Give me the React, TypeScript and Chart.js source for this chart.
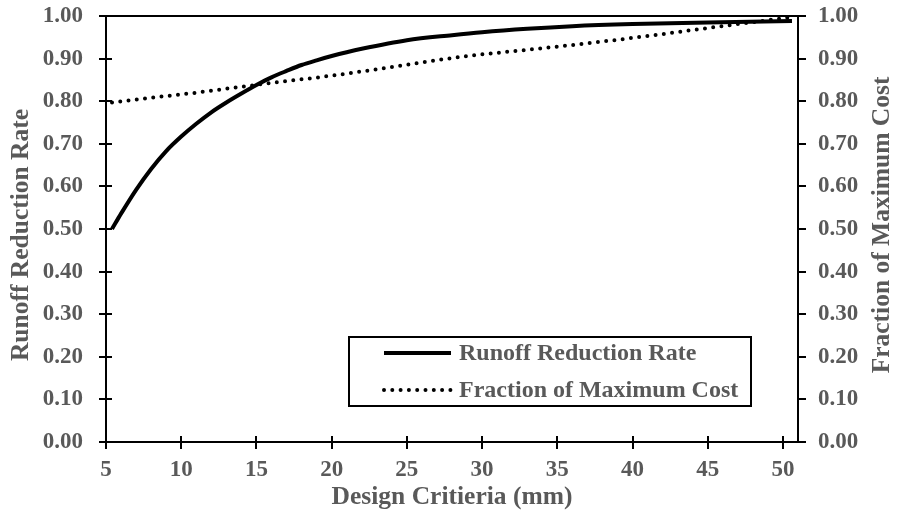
import React, { useEffect, useRef } from "react";
import { Chart, registerables } from "chart.js";

Chart.register(...registerables);

// ---- Data ----
const runoffX = [5.4, 6, 7, 8, 9, 10, 11, 12, 13, 14, 15, 16, 17, 18, 19, 20, 21, 22, 25, 28, 30, 33, 36, 40, 45, 50.6];
const runoffRate = [0.5, 0.536, 0.592, 0.641, 0.683, 0.717, 0.747, 0.774, 0.797, 0.818, 0.838, 0.856, 0.871, 0.885, 0.896, 0.906, 0.915, 0.923, 0.943, 0.955, 0.962, 0.97, 0.976, 0.981, 0.985, 0.988];
const costX = [5.4, 8, 11, 14, 17, 20, 23, 26, 29, 32, 35, 38, 41, 44, 47, 50.5];
const costFraction = [0.797, 0.808, 0.82, 0.834, 0.847, 0.86, 0.875, 0.891, 0.906, 0.917, 0.928, 0.94, 0.953, 0.967, 0.981, 0.997];

const xTitle = "Design Critieria (mm)";
const leftTitle = "Runoff Reduction Rate";
const rightTitle = "Fraction of Maximum Cost";
const seriesLabels = ["Runoff Reduction Rate", "Fraction of Maximum Cost"];

const FONT = "'Liberation Serif', 'Times New Roman', serif";
const TEXT = "#595959";

const decorPlugin = {
  id: "decor",
  afterDraw(chart: any) {
    const ctx = chart.ctx as CanvasRenderingContext2D;
    const ca = chart.chartArea;
    const xs = chart.scales.x;
    const ys = chart.scales.y;
    ctx.save();
    // inner halves of crossing tick marks
    ctx.strokeStyle = "#000";
    ctx.lineWidth = 2;
    ctx.beginPath();
    ys.ticks.forEach((_t: any, i: number) => {
      const py = Math.round(ys.getPixelForTick(i));
      ctx.moveTo(ca.left, py);
      ctx.lineTo(ca.left + 6, py);
    });
    xs.ticks.forEach((_t: any, i: number) => {
      const px = Math.round(xs.getPixelForTick(i));
      ctx.moveTo(px, ca.bottom);
      ctx.lineTo(px, ca.bottom - 6);
    });
    ctx.stroke();

    // y-axis titles (both read bottom-to-top)
    const midY = (ca.top + ca.bottom) / 2;
    ctx.fillStyle = TEXT;
    ctx.font = `bold 25.5px ${FONT}`;
    ctx.textAlign = "center";
    ctx.textBaseline = "middle";
    ctx.save();
    ctx.translate(ca.left - 85, midY + 6);
    ctx.rotate(-Math.PI / 2);
    ctx.fillText(leftTitle, 0, 0);
    ctx.restore();
    ctx.save();
    ctx.translate(ca.right + 84, midY - 4);
    ctx.rotate(-Math.PI / 2);
    ctx.fillText(rightTitle, 0, 0);
    ctx.restore();

    // legend box
    const bx = ca.left + 243;
    const by = ca.top + 321;
    const bw = 402;
    const bh = 69;
    ctx.fillStyle = "#fff";
    ctx.fillRect(bx, by, bw, bh);
    ctx.strokeStyle = "#000";
    ctx.lineWidth = 2;
    ctx.strokeRect(bx, by, bw, bh);

    const ds = chart.data.datasets;
    const rows = [by + 16, by + 53];
    ds.forEach((d: any, i: number) => {
      const yy = rows[i];
      ctx.save();
      ctx.strokeStyle = d.borderColor;
      ctx.lineWidth = d.borderWidth;
      ctx.lineCap = d.borderCapStyle || "butt";
      ctx.setLineDash(d.borderDash || []);
      ctx.beginPath();
      ctx.moveTo(bx + 35, yy);
      ctx.lineTo(bx + 102, yy);
      ctx.stroke();
      ctx.restore();
      ctx.fillStyle = TEXT;
      ctx.font = `bold 24px ${FONT}`;
      ctx.textAlign = "left";
      ctx.textBaseline = "middle";
      ctx.fillText(d.label, bx + 110, yy + 1);
    });
    ctx.restore();
  },
};

export default function App() {
  const ref = useRef<HTMLCanvasElement | null>(null);

  useEffect(() => {
    document.body.style.margin = "0";
    if (!ref.current) return;
    const tickFont = { family: FONT, size: 23, weight: "bold" as const };
    const titleFont = { family: FONT, size: 25.5, weight: "bold" as const };
    const fitY = (w: number) => (s: any) => {
      s.width = w;
      s.paddingTop = 0;
      s.paddingBottom = 0;
    };
    const chart = new Chart(ref.current, {
      type: "line",
      data: {
        datasets: [
          {
            label: seriesLabels[0],
            data: runoffX.map((x, i) => ({ x, y: runoffRate[i] })),
            borderColor: "#000",
            borderWidth: 4,
            pointRadius: 0,
            cubicInterpolationMode: "monotone",
            fill: false,
            yAxisID: "y",
          },
          {
            label: seriesLabels[1],
            data: costX.map((x, i) => ({ x, y: costFraction[i] })),
            borderColor: "#000",
            borderWidth: 4,
            borderDash: [0, 8.3],
            borderCapStyle: "round",
            pointRadius: 0,
            cubicInterpolationMode: "monotone",
            fill: false,
            yAxisID: "y1",
          },
        ],
      },
      options: {
        animation: false,
        responsive: true,
        maintainAspectRatio: false,
        layout: { padding: { top: 16, left: 0, right: 0, bottom: 0 } },
        plugins: {
          legend: { display: false },
          tooltip: { enabled: false },
        },
        scales: {
          x: {
            type: "linear",
            position: "bottom",
            min: 5,
            max: 51,
            afterFit: (s: any) => {
              s.height = 83;
              s.paddingLeft = 0;
              s.paddingRight = 0;
            },
            ticks: {
              stepSize: 5,
              includeBounds: false,
              color: TEXT,
              font: tickFont,
              padding: 7,
              maxRotation: 0,
            },
            grid: {
              drawOnChartArea: false,
              drawTicks: true,
              tickLength: 7,
              tickColor: "#000",
              lineWidth: 2,
            },
            border: { display: true, color: "#000", width: 2 },
            title: {
              display: true,
              text: xTitle,
              color: TEXT,
              font: titleFont,
              padding: { top: 0, bottom: 12 },
            },
          },
          y: {
            type: "linear",
            position: "left",
            min: 0,
            max: 1,
            afterFit: fitY(106),
            ticks: {
              stepSize: 0.1,
              color: TEXT,
              font: tickFont,
              padding: 16,
              callback: (v: any) => Number(v).toFixed(2),
            },
            grid: {
              color: (c: any) => (c.tick && Math.abs(c.tick.value - 1) < 1e-9 ? "#000" : "rgba(0,0,0,0)"),
              lineWidth: 2,
              drawTicks: true,
              tickLength: 7,
              tickColor: "#000",
            },
            border: { display: true, color: "#000", width: 2 },
            title: { display: false },
          },
          y1: {
            type: "linear",
            position: "right",
            min: 0,
            max: 1,
            afterFit: fitY(100),
            ticks: {
              stepSize: 0.1,
              color: TEXT,
              font: tickFont,
              padding: 12,
              callback: (v: any) => Number(v).toFixed(2),
            },
            grid: {
              drawOnChartArea: false,
              drawTicks: true,
              tickLength: 8,
              tickColor: "#000",
              lineWidth: 2,
            },
            border: { display: true, color: "#000", width: 2 },
            title: { display: false },
          },
        },
      },
      plugins: [decorPlugin],
    } as any);
    return () => chart.destroy();
  }, []);

  return (
    <div style={{ width: 898, height: 525, position: "relative" }}>
      <canvas ref={ref} />
    </div>
  );
}
